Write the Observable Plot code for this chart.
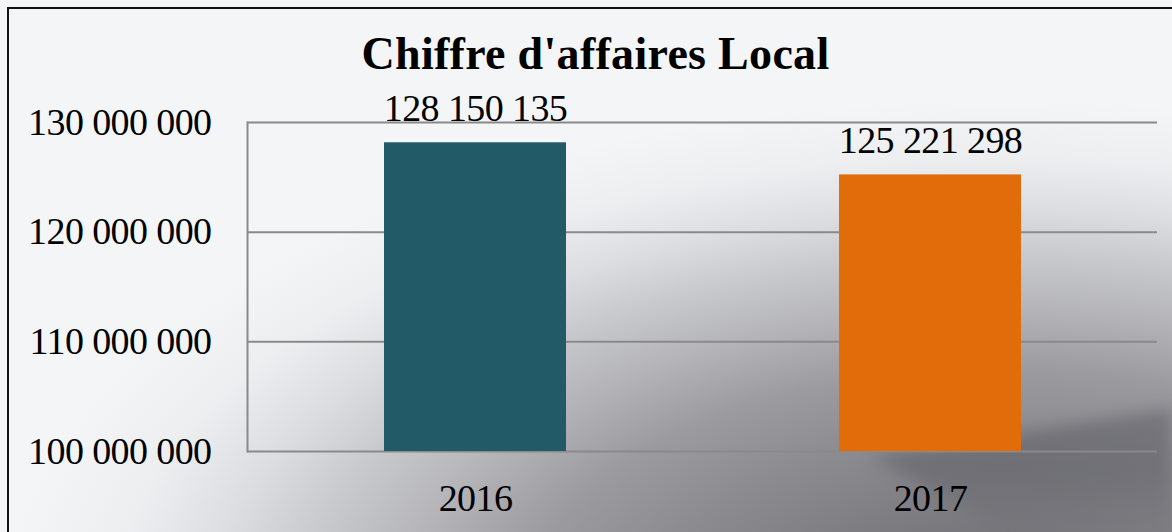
<!DOCTYPE html>
<html><head><meta charset="utf-8">
<script src="https://cdn.jsdelivr.net/npm/d3@7"></script>
<script src="https://cdn.jsdelivr.net/npm/@observablehq/plot@0.6"></script>
<style>
html,body{margin:0;padding:0;width:1172px;height:532px;overflow:hidden;}
#wrap{position:relative;width:1172px;height:532px;overflow:hidden;
background:
 radial-gradient(ellipse 1000px 520px at 1000px 620px, #66666c 0%, #8a8a8f 35%, #9a9a9f 48%, #b4b4b9 60%, #c8c9cd 70%, #dcdde0 79%, #eceef0 89%, #f4f5f7 100%),
 #f4f5f7;}
#wedgeWrap{position:absolute;left:0;top:0;width:1172px;height:532px;filter:blur(8px);}
#wedge{position:absolute;left:0;top:0;width:1172px;height:532px;
 clip-path:polygon(870px 456px, 1000px 436px, 1200px 404px, 1200px 560px, 1060px 560px);
 background:linear-gradient(to bottom, rgba(72,72,80,0.4) 400px, rgba(72,72,80,0.35) 470px, rgba(100,100,106,0.05) 532px);}
#title,#chart{position:relative;}
#frame{position:absolute;left:7px;top:7px;right:-10px;bottom:-10px;border-left:2px solid #111;border-top:2px solid #111;pointer-events:none;}
#title{height:100px;box-sizing:border-box;padding-top:31px;padding-left:19px;text-align:center;font-family:"Liberation Serif",serif;font-weight:bold;font-size:46px;line-height:46px;letter-spacing:0.3px;color:#000;white-space:nowrap;}
svg{display:block;background:transparent !important;}
</style></head>
<body><div id="wrap"><div id="wedgeWrap"><div id="wedge"></div></div><div id="title">Chiffre d'affaires Local</div><div id="chart"></div><div id="frame"></div></div>
<script>
const years = ["2016", "2017"];
const values = [128150135, 125221298];
const colors = ["#235a68", "#e36c0a"];
const yTicks = [100000000, 110000000, 120000000, 130000000];

const data = years.map((y, i) => ({year: y, value: values[i], color: colors[i]}));
const fmt = v => d3.format(",")(v).replace(/,/g, " ");

const plot = Plot.plot({
  width: 1172, height: 432,
  marginLeft: 247, marginRight: 15, marginTop: 22, marginBottom: 81,
  style: {fontFamily: "Liberation Serif, serif", fontSize: "38px", color: "#000", background: "transparent", overflow: "visible"},
  x: {domain: years, paddingInner: 0.6, paddingOuter: 0.3, label: null},
  y: {domain: [100000000, 130000000], label: null},
  marks: [
    Plot.gridY(yTicks, {stroke: "#8a8a8a", strokeOpacity: 1, strokeWidth: 2}),
    Plot.frame({anchor: "left", stroke: "#8a8a8a", strokeWidth: 2}),
    Plot.barY(data, {x: "year", y1: 100000000, y2: "value", fill: "color"}),
    Plot.text(data, {x: "year", y: "value", text: d => fmt(d.value), dy: -22, lineAnchor: "bottom", fontSize: 38, fill: "#000"}),
    Plot.axisY(yTicks, {tickSize: 0, tickPadding: 36, tickFormat: fmt, fontSize: 38, fill: "#000"}),
    Plot.axisX({tickSize: 0, tickPadding: 33, fontSize: 38, fill: "#000"})
  ]
});
plot.querySelectorAll("text").forEach(t => t.setAttribute("letter-spacing", "-0.6"));
document.getElementById("chart").appendChild(plot);
</script></body></html>
